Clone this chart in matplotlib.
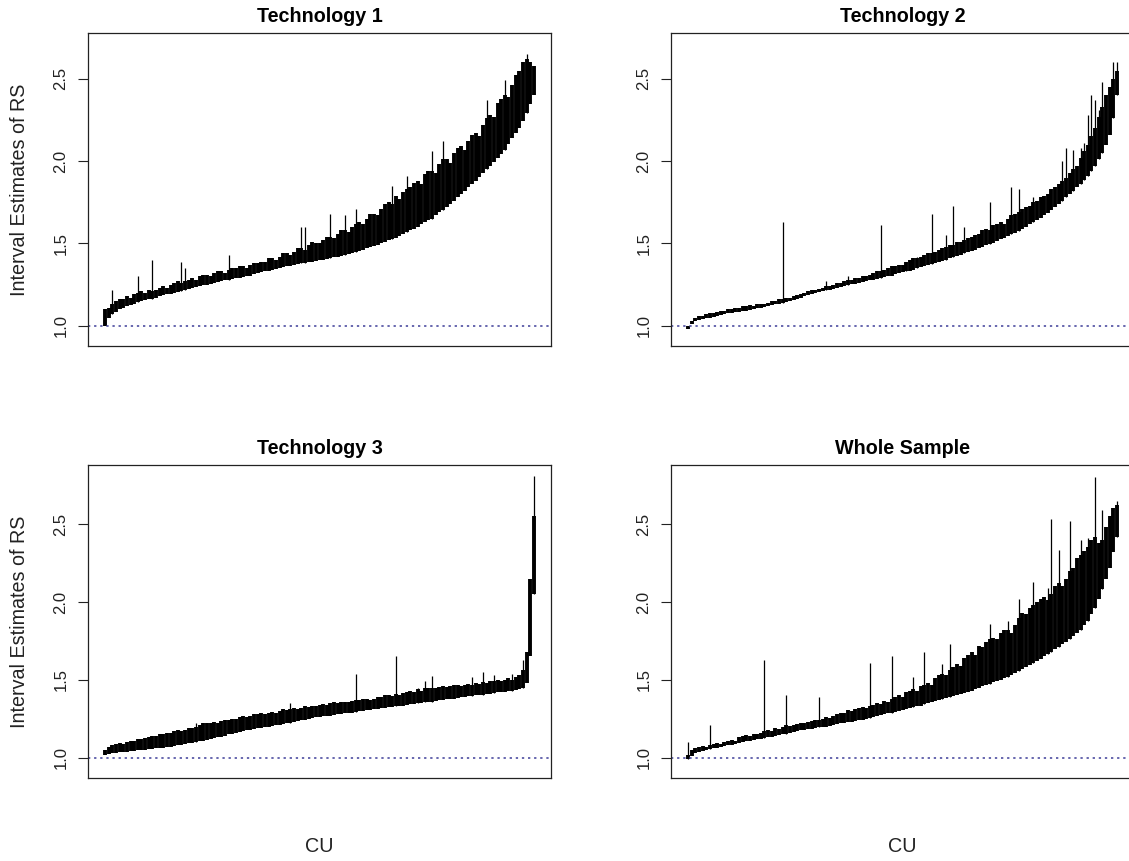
import matplotlib
matplotlib.use('Agg')
import matplotlib.pyplot as plt

plt.rcParams['font.family'] = ['Liberation Sans', 'DejaVu Sans']

titles = ['Technology 1', 'Technology 2', 'Technology 3', 'Whole Sample']
y_label = 'Interval Estimates of RS'
x_label = 'CU'
y_ticks = [1.0, 1.5, 2.0, 2.5]
y_tick_labels = ['1.0', '1.5', '2.0', '2.5']
ref_level = 1.0

# interval estimates of RS per CU (CUs sorted by lower bound)
t1_lower = [1.00, 1.05, 1.07, 1.085, 1.10, 1.11, 1.12, 1.128, 1.135, 1.142,
            1.15, 1.155, 1.16, 1.165, 1.17, 1.178, 1.185, 1.19, 1.195, 1.20,
            1.205, 1.21, 1.215, 1.222, 1.23, 1.235, 1.24, 1.245, 1.25, 1.255,
            1.26, 1.265, 1.27, 1.275, 1.28, 1.285, 1.29, 1.292, 1.295, 1.30,
            1.305, 1.312, 1.32, 1.325, 1.33, 1.335, 1.34, 1.345, 1.35, 1.355,
            1.36, 1.365, 1.37, 1.375, 1.38, 1.382, 1.385, 1.39, 1.395, 1.398,
            1.40, 1.405, 1.41, 1.415, 1.42, 1.425, 1.43, 1.435, 1.44, 1.448,
            1.455, 1.462, 1.47, 1.478, 1.485, 1.492, 1.50, 1.51, 1.52, 1.528,
            1.535, 1.545, 1.555, 1.568, 1.58, 1.59, 1.60, 1.615, 1.63, 1.64,
            1.65, 1.67, 1.69, 1.705, 1.72, 1.74, 1.76, 1.78, 1.80, 1.82,
            1.84, 1.86, 1.88, 1.905, 1.93, 1.95, 1.97, 1.995, 2.02, 2.045,
            2.07, 2.105, 2.14, 2.17, 2.20, 2.245, 2.29, 2.345, 2.40]
t1_upper = [1.10, 1.11, 1.13, 1.15, 1.16, 1.16, 1.18, 1.17, 1.19, 1.20,
            1.21, 1.20, 1.22, 1.21, 1.22, 1.23, 1.24, 1.23, 1.25, 1.26,
            1.27, 1.26, 1.27, 1.28, 1.29, 1.28, 1.30, 1.31, 1.31, 1.30,
            1.32, 1.33, 1.33, 1.32, 1.34, 1.35, 1.35, 1.36, 1.36, 1.35,
            1.37, 1.38, 1.38, 1.39, 1.39, 1.41, 1.41, 1.40, 1.42, 1.44,
            1.44, 1.43, 1.45, 1.47, 1.47, 1.46, 1.49, 1.51, 1.50, 1.50,
            1.52, 1.54, 1.54, 1.53, 1.56, 1.58, 1.58, 1.57, 1.60, 1.62,
            1.63, 1.62, 1.65, 1.68, 1.68, 1.67, 1.71, 1.74, 1.75, 1.74,
            1.79, 1.77, 1.81, 1.83, 1.84, 1.87, 1.88, 1.86, 1.92, 1.94,
            1.94, 1.93, 1.98, 2.01, 2.01, 1.99, 2.05, 2.08, 2.09, 2.07,
            2.12, 2.16, 2.17, 2.15, 2.22, 2.26, 2.28, 2.27, 2.35, 2.38,
            2.40, 2.39, 2.46, 2.52, 2.55, 2.60, 2.62, 2.60, 2.58]
t1_spike_cu = [3, 10, 14, 22, 23, 35, 55, 56, 63, 67, 70, 80, 84, 91, 94, 106, 111, 117]
t1_spike_top = [1.22, 1.30, 1.40, 1.39, 1.35, 1.43, 1.60, 1.60, 1.68, 1.67,
                1.71, 1.85, 1.91, 2.06, 2.12, 2.37, 2.49, 2.65]

t2_lower = [0.98, 1.01, 1.03, 1.035, 1.04, 1.045, 1.05, 1.055, 1.06, 1.065,
            1.07, 1.075, 1.08, 1.082, 1.085, 1.088, 1.09, 1.095, 1.10, 1.105,
            1.11, 1.115, 1.12, 1.125, 1.13, 1.135, 1.14, 1.145, 1.15, 1.155,
            1.16, 1.17, 1.18, 1.188, 1.195, 1.20, 1.205, 1.21, 1.215, 1.22,
            1.225, 1.23, 1.235, 1.242, 1.25, 1.252, 1.255, 1.26, 1.265, 1.27,
            1.275, 1.28, 1.285, 1.29, 1.295, 1.30, 1.305, 1.312, 1.32, 1.325,
            1.33, 1.335, 1.34, 1.348, 1.355, 1.362, 1.37, 1.375, 1.38, 1.388,
            1.395, 1.402, 1.41, 1.418, 1.425, 1.432, 1.44, 1.448, 1.455, 1.462,
            1.47, 1.48, 1.49, 1.498, 1.505, 1.515, 1.525, 1.535, 1.545, 1.555,
            1.565, 1.578, 1.59, 1.602, 1.615, 1.628, 1.64, 1.655, 1.67, 1.685,
            1.70, 1.72, 1.74, 1.76, 1.78, 1.80, 1.82, 1.84, 1.86, 1.885,
            1.91, 1.94, 1.97, 2.01, 2.05, 2.10, 2.16, 2.26, 2.40]
t2_upper = [1.00, 1.03, 1.05, 1.06, 1.06, 1.07, 1.08, 1.08, 1.085, 1.09,
            1.09, 1.10, 1.10, 1.11, 1.11, 1.12, 1.12, 1.125, 1.12, 1.13,
            1.135, 1.13, 1.14, 1.15, 1.15, 1.16, 1.16, 1.17, 1.17, 1.18,
            1.185, 1.19, 1.20, 1.21, 1.22, 1.22, 1.225, 1.23, 1.24, 1.24,
            1.25, 1.26, 1.26, 1.27, 1.28, 1.28, 1.29, 1.29, 1.30, 1.30,
            1.31, 1.32, 1.33, 1.33, 1.34, 1.35, 1.36, 1.36, 1.37, 1.37,
            1.39, 1.40, 1.41, 1.41, 1.42, 1.43, 1.44, 1.44, 1.45, 1.46,
            1.47, 1.48, 1.49, 1.49, 1.51, 1.51, 1.52, 1.53, 1.54, 1.55,
            1.56, 1.58, 1.59, 1.58, 1.61, 1.62, 1.63, 1.62, 1.65, 1.67,
            1.68, 1.69, 1.71, 1.72, 1.73, 1.75, 1.76, 1.78, 1.79, 1.80,
            1.83, 1.84, 1.86, 1.88, 1.90, 1.93, 1.95, 1.97, 2.02, 2.06,
            2.10, 2.15, 2.20, 2.27, 2.33, 2.40, 2.45, 2.50, 2.55]
t2_spike_cu = [27, 39, 45, 54, 61, 64, 68, 72, 74, 77, 84, 90, 92, 96, 104,
               105, 107, 109, 110, 111, 112, 113, 114, 115, 118, 119]
t2_spike_top = [1.63, 1.27, 1.30, 1.61, 1.39, 1.42, 1.68, 1.55, 1.73, 1.60,
                1.75, 1.84, 1.83, 1.78, 2.00, 2.08, 2.07, 2.08, 2.11, 2.28,
                2.40, 2.37, 2.31, 2.48, 2.60, 2.60]

t3_lower = [1.02, 1.025, 1.03, 1.032, 1.035, 1.038, 1.04, 1.042, 1.045, 1.048,
            1.05, 1.052, 1.055, 1.058, 1.06, 1.062, 1.065, 1.068, 1.07, 1.075,
            1.08, 1.085, 1.09, 1.092, 1.095, 1.10, 1.105, 1.11, 1.115, 1.12,
            1.125, 1.13, 1.135, 1.142, 1.15, 1.155, 1.16, 1.165, 1.17, 1.175,
            1.18, 1.185, 1.19, 1.192, 1.195, 1.20, 1.205, 1.208, 1.21, 1.215,
            1.22, 1.225, 1.23, 1.235, 1.24, 1.245, 1.25, 1.255, 1.26, 1.262,
            1.265, 1.268, 1.27, 1.275, 1.28, 1.282, 1.285, 1.288, 1.29, 1.295,
            1.30, 1.302, 1.305, 1.308, 1.31, 1.315, 1.32, 1.322, 1.325, 1.328,
            1.33, 1.332, 1.335, 1.34, 1.345, 1.348, 1.35, 1.352, 1.355, 1.358,
            1.36, 1.365, 1.37, 1.372, 1.375, 1.378, 1.38, 1.385, 1.39, 1.392,
            1.395, 1.398, 1.40, 1.402, 1.405, 1.408, 1.41, 1.415, 1.42, 1.422,
            1.425, 1.428, 1.43, 1.435, 1.44, 1.45, 1.48, 1.65, 2.05]
t3_upper = [1.05, 1.07, 1.08, 1.09, 1.095, 1.09, 1.10, 1.11, 1.11, 1.12,
            1.12, 1.125, 1.13, 1.14, 1.14, 1.15, 1.15, 1.16, 1.16, 1.17,
            1.175, 1.17, 1.18, 1.19, 1.19, 1.20, 1.21, 1.22, 1.225, 1.22,
            1.23, 1.225, 1.235, 1.24, 1.24, 1.25, 1.25, 1.26, 1.265, 1.26,
            1.27, 1.28, 1.28, 1.285, 1.28, 1.29, 1.295, 1.29, 1.30, 1.31,
            1.305, 1.31, 1.32, 1.315, 1.32, 1.33, 1.325, 1.33, 1.335, 1.34,
            1.345, 1.34, 1.35, 1.355, 1.35, 1.36, 1.36, 1.355, 1.365, 1.37,
            1.37, 1.375, 1.38, 1.37, 1.38, 1.39, 1.39, 1.40, 1.40, 1.395,
            1.41, 1.40, 1.415, 1.42, 1.43, 1.425, 1.44, 1.43, 1.445, 1.45,
            1.45, 1.445, 1.455, 1.46, 1.455, 1.46, 1.465, 1.47, 1.46, 1.47,
            1.475, 1.47, 1.48, 1.475, 1.485, 1.48, 1.49, 1.49, 1.50, 1.495,
            1.50, 1.51, 1.50, 1.52, 1.53, 1.56, 1.68, 2.15, 2.55]
t3_spike_cu = [26, 52, 70, 81, 87, 89, 91, 102, 105, 108, 113, 116, 119]
t3_spike_top = [1.22, 1.35, 1.54, 1.65, 1.45, 1.49, 1.525, 1.52, 1.55, 1.53,
                1.54, 1.63, 2.81]

all_lower = [0.99, 1.01, 1.03, 1.038, 1.045, 1.05, 1.055, 1.06, 1.065, 1.07,
             1.075, 1.08, 1.085, 1.09, 1.095, 1.10, 1.105, 1.11, 1.115, 1.118,
             1.12, 1.125, 1.13, 1.135, 1.14, 1.145, 1.15, 1.155, 1.16, 1.165,
             1.17, 1.175, 1.18, 1.182, 1.185, 1.19, 1.195, 1.198, 1.20, 1.205,
             1.21, 1.215, 1.22, 1.225, 1.23, 1.232, 1.235, 1.24, 1.245, 1.25,
             1.255, 1.262, 1.27, 1.275, 1.28, 1.285, 1.29, 1.295, 1.30, 1.308,
             1.315, 1.32, 1.325, 1.33, 1.335, 1.342, 1.35, 1.358, 1.365, 1.372,
             1.38, 1.385, 1.39, 1.395, 1.40, 1.408, 1.415, 1.422, 1.43, 1.44,
             1.45, 1.458, 1.465, 1.475, 1.485, 1.492, 1.50, 1.51, 1.52, 1.532,
             1.545, 1.558, 1.57, 1.582, 1.595, 1.608, 1.62, 1.635, 1.65, 1.665,
             1.68, 1.695, 1.71, 1.728, 1.745, 1.762, 1.78, 1.80, 1.82, 1.85,
             1.88, 1.92, 1.96, 2.02, 2.08, 2.15, 2.22, 2.32, 2.42]
all_upper = [1.02, 1.05, 1.06, 1.07, 1.075, 1.07, 1.085, 1.09, 1.095, 1.09,
             1.10, 1.11, 1.115, 1.11, 1.13, 1.14, 1.145, 1.14, 1.15, 1.155,
             1.16, 1.17, 1.175, 1.17, 1.19, 1.185, 1.20, 1.21, 1.205, 1.21,
             1.215, 1.22, 1.225, 1.23, 1.235, 1.24, 1.245, 1.25, 1.26, 1.255,
             1.27, 1.28, 1.29, 1.29, 1.305, 1.30, 1.315, 1.32, 1.325, 1.32,
             1.335, 1.34, 1.35, 1.345, 1.365, 1.36, 1.38, 1.39, 1.40, 1.39,
             1.42, 1.43, 1.44, 1.43, 1.46, 1.47, 1.48, 1.47, 1.51, 1.53,
             1.54, 1.53, 1.56, 1.58, 1.60, 1.59, 1.64, 1.66, 1.68, 1.66,
             1.72, 1.71, 1.74, 1.76, 1.77, 1.76, 1.80, 1.82, 1.82, 1.80,
             1.85, 1.90, 1.93, 1.92, 1.96, 1.98, 2.00, 2.02, 2.03, 2.01,
             2.05, 2.10, 2.12, 2.10, 2.15, 2.20, 2.22, 2.28, 2.30, 2.33,
             2.35, 2.40, 2.42, 2.38, 2.40, 2.48, 2.55, 2.60, 2.62]
all_spike_cu = [1, 7, 22, 28, 37, 51, 57, 63, 66, 71, 73, 84, 89, 92, 96, 100,
                101, 103, 106, 109, 111, 113, 115, 119]
all_spike_top = [1.10, 1.21, 1.63, 1.40, 1.39, 1.61, 1.655, 1.52, 1.68, 1.60,
                 1.73, 1.86, 1.88, 2.02, 2.13, 2.09, 2.53, 2.335, 2.52, 2.40,
                 2.41, 2.80, 2.59, 2.645]

panels = [
    (t1_lower, t1_upper, t1_spike_cu, t1_spike_top),
    (t2_lower, t2_upper, t2_spike_cu, t2_spike_top),
    (t3_lower, t3_upper, t3_spike_cu, t3_spike_top),
    (all_lower, all_upper, all_spike_cu, all_spike_top),
]

# layout in pixels (left, top of each plot box)
W, H = 1129, 861
box_w, box_h = 463, 313
boxes = [(88, 33), (671, 33), (88, 465), (671, 465)]
ylims = [(0.877, 2.778), (0.877, 2.778), (0.870, 2.879), (0.870, 2.879)]

fig = plt.figure(figsize=(W / 100, H / 100), dpi=100)

for k, (lower, upper, spike_cu, spike_top) in enumerate(panels):
    left, top = boxes[k]
    ax = fig.add_axes([left / W, (H - top - box_h) / H, box_w / W, box_h / H])
    n = len(lower)
    cu = list(range(1, n + 1))
    ax.vlines(cu, lower, upper, colors='black', linewidth=2.8, capstyle='butt')
    spike_lo = [lower[c - 1] for c in spike_cu]
    ax.vlines(spike_cu, spike_lo, spike_top, colors='black', linewidth=0.9)
    ax.axhline(ref_level, color='#3d3d99', linestyle=(0, (1.5, 2.5)), linewidth=1.1)

    pad = 0.04 * (n - 1)
    ax.set_xlim(1 - pad, n + pad)
    ax.set_ylim(*ylims[k])
    ax.set_xticks([])
    ax.set_yticks(y_ticks)
    ax.set_yticklabels(y_tick_labels, rotation=90, va='center')
    ax.tick_params(axis='y', length=7.2, width=0.8, labelsize=12, pad=7,
                   colors='#222222')
    for s in ax.spines.values():
        s.set_linewidth(0.9)
        s.set_color('#222222')

    cx = (left + box_w / 2) / W
    fig.text(cx, 1 - (top - 16.5) / H, titles[k], ha='center', va='center',
             fontsize=14.2, fontweight='bold')
    if k in (2, 3):
        fig.text(cx, 1 - (top + box_h + 68) / H, x_label, ha='center',
                 va='center', fontsize=14.2, color='#222222')
    if k in (0, 2):
        fig.text(20 / W, 1 - (top + box_h / 2) / H, y_label, rotation=90,
                 ha='center', va='center', fontsize=14.2, color='#222222')

plt.savefig('out.png', dpi=100)
plt.close()
